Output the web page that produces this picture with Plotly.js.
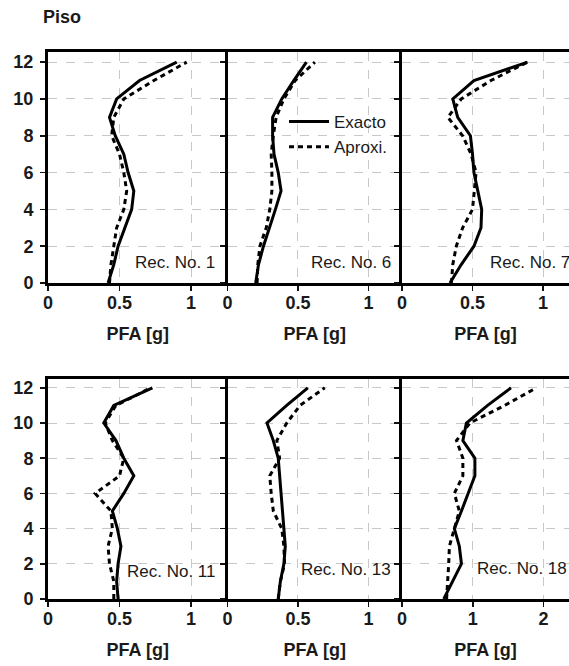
<!DOCTYPE html>
<html>
<head>
<meta charset="utf-8">
<script src="https://cdn.plot.ly/plotly-3.0.1.min.js"></script>
<style>html,body{margin:0;padding:0;background:#fff;}#chart{width:569px;height:666px;}</style>
</head>
<body>
<div id="chart"></div>
<script>
// ---- data ----
const floors = [0,1,2,3,4,5,6,7,8,9,10,11,12];
const recLabels = ['Rec. No. 1','Rec. No. 6','Rec. No. 7','Rec. No. 11','Rec. No. 13','Rec. No. 18'];

const exacto_rec1  = [0.42,0.46,0.49,0.54,0.585,0.60,0.56,0.53,0.47,0.43,0.48,0.64,0.90];
const aproxi_rec1  = [0.43,0.44,0.46,0.48,0.53,0.55,0.53,0.50,0.445,0.46,0.53,0.74,0.97];
const exacto_rec6  = [0.20,0.22,0.255,0.30,0.34,0.38,0.36,0.33,0.32,0.32,0.385,0.47,0.56];
const aproxi_rec6  = [0.21,0.215,0.23,0.275,0.30,0.315,0.315,0.31,0.325,0.345,0.40,0.48,0.62];
const exacto_rec7  = [0.34,0.42,0.51,0.56,0.565,0.535,0.51,0.50,0.485,0.395,0.36,0.51,0.89];
const aproxi_rec7  = [0.35,0.36,0.385,0.43,0.50,0.51,0.525,0.49,0.43,0.325,0.42,0.63,0.89];
const exacto_rec11 = [0.49,0.48,0.49,0.51,0.485,0.45,0.53,0.60,0.53,0.475,0.39,0.46,0.73];
const aproxi_rec11 = [0.46,0.46,0.43,0.42,0.45,0.44,0.33,0.50,0.53,0.45,0.40,0.475,0.72];
const exacto_rec13 = [0.36,0.375,0.40,0.41,0.40,0.39,0.38,0.37,0.36,0.325,0.28,0.42,0.57];
const aproxi_rec13 = [0.36,0.375,0.405,0.40,0.385,0.325,0.31,0.30,0.37,0.35,0.42,0.515,0.69];
const exacto_rec18 = [0.59,0.72,0.84,0.81,0.74,0.84,0.93,1.03,1.03,0.86,0.91,1.21,1.54];
const aproxi_rec18 = [0.63,0.65,0.66,0.67,0.74,0.81,0.74,0.86,0.86,0.77,0.96,1.45,1.90];

const seriesNames = ['Exacto','Aproxi.'];
const xTickVals1 = [0,0.5,1];
const xTickText1 = ['0','0.5','1'];
const xTickVals2 = [0,1,2];
const xTickText2 = ['0','1','2'];
const yTickVals = [0,2,4,6,8,10,12];
const xTitle = 'PFA [g]';
const yTitle = 'Piso';

// ---- layout helpers ----
const W = 569, H = 666;
const FONT = 'Liberation Sans, Arial, sans-serif';
const TXT = '#1a1a1a';
const exactos = [exacto_rec1, exacto_rec6, exacto_rec7, exacto_rec11, exacto_rec13, exacto_rec18];
const aproxis = [aproxi_rec1, aproxi_rec6, aproxi_rec7, aproxi_rec11, aproxi_rec13, aproxi_rec18];

const colsPx = [[48,227.5],[227.5,402],[402,569]];
const rowsPx = [[52,283],[379,599]];
const xMax = [[1.255,1.238,1.184],[1.255,1.238,2.36]];
const yMax = [12.55,12.5];
// label anchor: [x (axis units), y (floor units), anchor side]
const labelPos = [[[1.18,1.14,'right'],[1.174,1.14,'right'],[0.61,1.14,'left']],
                  [[1.19,1.55,'right'],[1.174,1.65,'right'],[1.03,1.76,'left']]];

const traces = [];
const layout = {
  width: W, height: H,
  margin: {l:0, r:0, t:0, b:0},
  paper_bgcolor: '#fff', plot_bgcolor: '#fff',
  font: {family: FONT, color: TXT},
  showlegend: true,
  legend: {x: 284/W, y: 1-104/H, xanchor: 'left', yanchor: 'top', itemwidth: 40,
           bgcolor: 'rgba(0,0,0,0)', font: {family: FONT, size: 17, color: TXT},
           tracegroupgap: 0},
  annotations: [],
};

for (let r = 0; r < 2; r++) {
  for (let c = 0; c < 3; c++) {
    const i = r*3 + c;
    const n = i + 1;
    const xa = n === 1 ? 'x' : 'x'+n;
    const ya = n === 1 ? 'y' : 'y'+n;
    const xk = n === 1 ? 'xaxis' : 'xaxis'+n;
    const yk = n === 1 ? 'yaxis' : 'yaxis'+n;
    const useBig = (r === 1 && c === 2);
    layout[xk] = {
      domain: [colsPx[c][0]/W, colsPx[c][1]/W],
      anchor: ya,
      range: [0, xMax[r][c]],
      tickvals: useBig ? xTickVals2 : xTickVals1,
      ticktext: useBig ? xTickText2 : xTickText1,
      ticks: 'outside', ticklen: 5, tickwidth: 1.5, tickcolor: '#111',
      ticklabelstandoff: -4,
      tickfont: {family: FONT, size: 18, weight: 700, color: TXT},
      showline: true, linewidth: 3, linecolor: '#000', mirror: true,
      showgrid: true, gridcolor: '#c8c8c8', griddash: 'dash', gridwidth: 1,
      zeroline: false, fixedrange: true, automargin: false,
      title: {text: xTitle, standoff: 16, font: {family: FONT, size: 18, weight: 700, color: TXT}},
    };
    layout[yk] = {
      domain: [1-rowsPx[r][1]/H, 1-rowsPx[r][0]/H],
      anchor: xa,
      range: [0, yMax[r]],
      tickvals: yTickVals,
      showticklabels: c === 0,
      ticks: 'outside', ticklen: 5, tickwidth: 1.5, tickcolor: '#111',
      ticklabelstandoff: 3,
      tickfont: {family: FONT, size: 18, weight: 700, color: TXT},
      showline: true, linewidth: 3, linecolor: '#000', mirror: false,
      showgrid: true, gridcolor: '#c8c8c8', griddash: 'dash', gridwidth: 1,
      zeroline: false, fixedrange: true, automargin: false,
    };
    traces.push({
      type: 'scatter', mode: 'lines', x: exactos[i], y: floors,
      xaxis: xa, yaxis: ya, name: seriesNames[0], legendgroup: 'e',
      showlegend: i === 0,
      line: {color: '#000', width: 3},
    });
    traces.push({
      type: 'scatter', mode: 'lines', x: aproxis[i], y: floors,
      xaxis: xa, yaxis: ya, name: seriesNames[1], legendgroup: 'a',
      showlegend: i === 0,
      line: {color: '#000', width: 3, dash: '5px,4px'},
    });
    layout.annotations.push({
      xref: xa, yref: ya, x: labelPos[r][c][0], y: labelPos[r][c][1],
      xanchor: labelPos[r][c][2], yanchor: 'middle', showarrow: false,
      text: recLabels[i],
      font: {family: FONT, size: 17, color: TXT},
    });
  }
}
layout.annotations.push({
  xref: 'paper', yref: 'paper', x: 41/W, y: 1-17/H, xanchor: 'left', yanchor: 'middle',
  showarrow: false, text: yTitle,
  font: {family: FONT, size: 18, weight: 700, color: TXT},
});

Plotly.newPlot('chart', traces, layout, {displayModeBar: false, staticPlot: true});
</script>
</body>
</html>
